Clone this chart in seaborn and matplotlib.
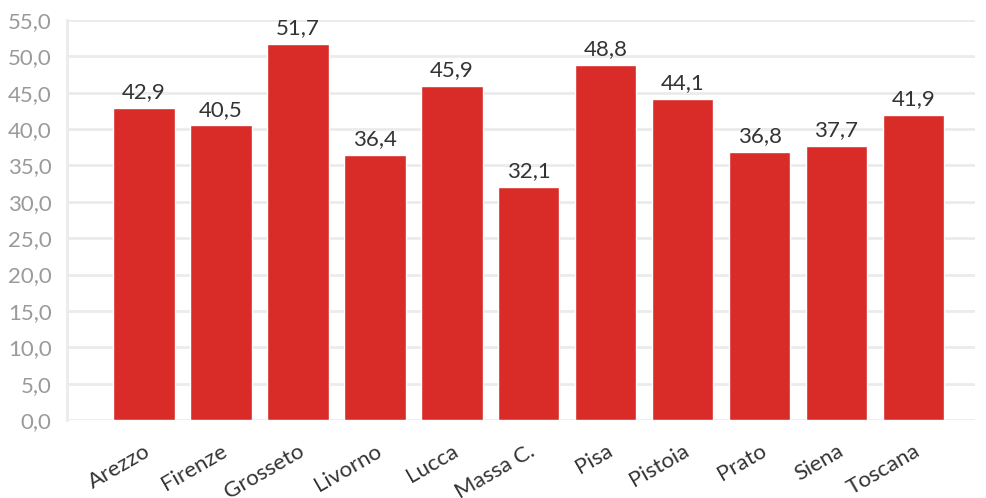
import matplotlib
matplotlib.use("Agg")
import matplotlib.pyplot as plt
import seaborn as sns
import pandas as pd

provinces = ["Arezzo", "Firenze", "Grosseto", "Livorno", "Lucca", "Massa C.",
             "Pisa", "Pistoia", "Prato", "Siena", "Toscana"]
values = [42.9, 40.5, 51.7, 36.4, 45.9, 32.1, 48.8, 44.1, 36.8, 37.7, 41.9]
y_ticks = [0, 5, 10, 15, 20, 25, 30, 35, 40, 45, 50, 55]

df = pd.DataFrame({"provincia": provinces, "valore": values})

sns.set_theme(style="white")
plt.rcParams["font.family"] = ["Lato", "DejaVu Sans"]

fig = plt.figure(figsize=(9.86, 4.98), dpi=100)
ax = fig.add_axes([67 / 986, 78 / 498, (975 - 67) / 986, 400 / 498])

sns.barplot(data=df, x="provincia", y="valore", color="#D92B27",
            saturation=1, width=0.8, ax=ax, zorder=3)

ax.set_xlim(-1.0, 10.8)
ax.set_ylim(0, 55)
ax.set_yticks(y_ticks)
ax.set_yticklabels([f"{v:.1f}".replace(".", ",") for v in y_ticks])
ax.yaxis.grid(True, color="#ebebeb", linewidth=2, zorder=0)
ax.set_axisbelow(True)

for s in ["top", "right", "bottom"]:
    ax.spines[s].set_visible(False)
ax.spines["left"].set_color("#ebebeb")
ax.spines["left"].set_linewidth(2)

ax.tick_params(axis="y", length=9, width=2, color="#ebebeb",
               labelsize=16, labelcolor="#9a9a9a", pad=2)
ax.tick_params(axis="x", length=10, width=1.5, color="#e3e3e3",
               labelsize=16, labelcolor="#333333", pad=5)
plt.setp(ax.get_xticklabels(), rotation=30, ha="right", rotation_mode="anchor")

for i, v in enumerate(values):
    ax.text(i, v + 0.8, f"{v:.1f}".replace(".", ","), ha="center", va="bottom",
            fontsize=16, color="#333333")

ax.set_xlabel("")
ax.set_ylabel("")

fig.savefig("out.png", dpi=100)
